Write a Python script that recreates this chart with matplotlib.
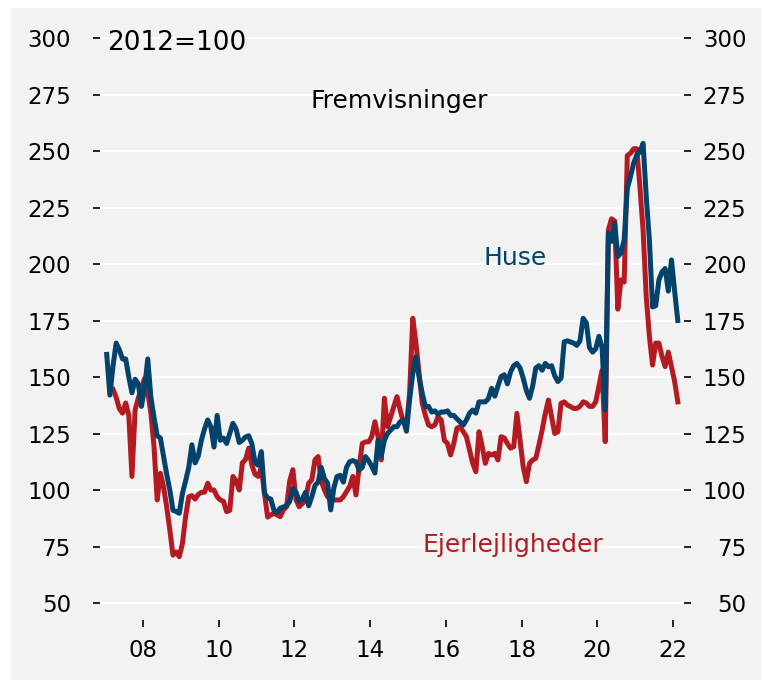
import numpy as np
import matplotlib.pyplot as plt
from matplotlib.patches import Rectangle

# --- Datos mensuales (ene 2007 - feb 2022), 2012=100 ---
huse = [160, 142, 155, 165, 162, 158, 158, 150, 143, 149,
        147, 137, 145, 158, 141, 132, 124, 123, 115, 107,
        100, 91, 90.5, 89.7, 98.5, 104, 110, 120, 112, 115,
        122, 127, 131, 128, 119, 133, 122, 123, 120.6, 125,
        129.5, 127, 121, 122, 123.5, 124, 120.5, 112, 111, 117,
        98.5, 96.5, 96, 91, 90, 92, 92.5, 93, 95, 100.7,
        99, 95, 96, 99, 93, 97, 102, 103.5, 110, 105,
        103, 91.2, 101, 106, 106.5, 103.5, 110, 112.5, 113, 112.5,
        108.8, 110, 114.8, 113, 110.5, 107.5, 122, 115, 122, 125,
        126.5, 128, 128, 130.2, 131, 126, 140, 151.6, 159, 150,
        142.8, 136.9, 137, 134.5, 135, 133.5, 134.5, 134.5, 135, 133,
        133, 131.5, 130.2, 128.7, 131, 134, 135.4, 134, 139, 139,
        139, 140.5, 145, 141.5, 146, 150.2, 151, 147, 152.3, 155,
        156, 154, 149.5, 144, 140.6, 146, 154, 155, 153, 156,
        154.5, 155, 150.5, 148, 149.5, 165.6, 166, 165.5, 165, 164,
        166, 176, 174, 163, 161, 162.5, 168, 163, 135.4, 213.6,
        210, 218, 203.3, 205, 210.6, 233.5, 238.6, 244.6, 248.2, 249.6,
        253.4, 229.8, 210.6, 181, 181.5, 192.9, 196.5, 198, 188, 201.8,
        188, 175]

ejerlejligheder = [np.nan, np.nan, 144.5, 141, 136, 134, 138.5, 133, 106, 135.5,
                   140.6, 145, 149.4, 143.5, 134, 119, 95.6, 107.4, 101.5, 92.6,
                   82.3, 71.2, 72.6, 70.5, 76.4, 88.2, 97, 97.5, 96, 98,
                   99, 99, 103, 100, 100, 97, 95.6, 95, 90.4, 91,
                   106, 104, 100, 112, 113.5, 118.5, 111, 107, 106, 110,
                   98.5, 88, 89, 89.6, 89, 88.2, 91.2, 92.6, 104, 109,
                   95.6, 92.6, 94, 95.6, 103, 104.5, 113.3, 114.8, 104, 100,
                   97, 96.3, 95.6, 95.6, 95.6, 97, 99.3, 101.5, 106, 97.8,
                   110.3, 120.6, 121.3, 121.3, 123.6, 130.2, 123.6, 113.3, 140.6, 128,
                   132.4, 137, 141.3, 135.4, 130.2, 128, 142.8, 176, 165, 151.6,
                   138.4, 133, 128.8, 128, 128.8, 132.4, 131, 122, 120.6, 115.5,
                   120.6, 127.3, 128, 125.8, 123.6, 117.7, 111.8, 108.1, 125.8, 119.2,
                   111.8, 116.2, 115.5, 116.2, 113.3, 123.6, 123, 120.6, 118.5, 119.2,
                   133.9, 122, 110.3, 103.7, 111.8, 113.3, 114, 120, 126.5, 133.9,
                   139.8, 132.4, 125, 125.8, 138.4, 139, 137.6, 136.9, 136.1, 136.1,
                   137, 139, 138.5, 137, 137, 139, 146, 153, 121.4, 215,
                   220, 219, 180, 193, 192, 248, 249, 251, 251, 234,
                   215, 185.6, 168, 155.3, 165, 165, 159, 154.6, 161, 154.6,
                   148, 139]

anios = [2008, 2010, 2012, 2014, 2016, 2018, 2020, 2022]
anios_labels = ['08', '10', '12', '14', '16', '18', '20', '22']
y_ticks = [50, 75, 100, 125, 150, 175, 200, 225, 250, 275, 300]

# --- Colores ---
azul = '#02426b'
rojo = '#b41a21'
gris = '#f2f2f2'

x = 2007 + (np.arange(len(huse)) + 0.5) / 12

fig = plt.figure(figsize=(7.61, 6.8), dpi=100)
fig.patches.append(Rectangle((11 / 761, 0), 1, 672 / 680, transform=fig.transFigure,
                             facecolor=gris, edgecolor='none', zorder=-10))
ax = fig.add_axes([100 / 761, 60 / 680, 584 / 761, 598 / 680])
ax.set_facecolor(gris)

ax.plot(x, ejerlejligheder, color=rojo, lw=3.6, zorder=3)
ax.plot(x, huse, color=azul, lw=3.6, zorder=4)

ax.set_xlim(2006.864, 2022.289)
ax.set_ylim(42.48, 307.08)
ax.set_xticks(anios)
ax.set_xticklabels(anios_labels)
ax.set_yticks(y_ticks)
for s in ax.spines.values():
    s.set_visible(False)
ax.grid(axis='y', color='white', lw=1.6, zorder=1)
ax.set_axisbelow(True)
ax.tick_params(axis='y', length=5, width=1.2, pad=16, labelsize=16.5)
ax.tick_params(axis='x', length=5, width=1.2, pad=9, labelsize=16.5)

ax2 = ax.twinx()
ax2.set_ylim(ax.get_ylim())
ax2.set_yticks(y_ticks)
for s in ax2.spines.values():
    s.set_visible(False)
ax2.tick_params(axis='y', length=5, width=1.2, pad=40, labelsize=16.5)
for lab in ax2.get_yticklabels():
    lab.set_horizontalalignment('right')

ax.text(2007.05, 294.7, '2012=100', fontsize=19, ha='left', va='baseline')
ax.text(2014.76, 268.9, 'Fremvisninger', fontsize=18, ha='center', va='baseline')
ax.text(2017.84, 199.6, 'Huse', fontsize=18, ha='center', va='baseline', color=azul)
ax.text(2017.77, 72.4, 'Ejerlejligheder', fontsize=18, ha='center', va='baseline', color=rojo)

fig.savefig('out.png', dpi=100)
